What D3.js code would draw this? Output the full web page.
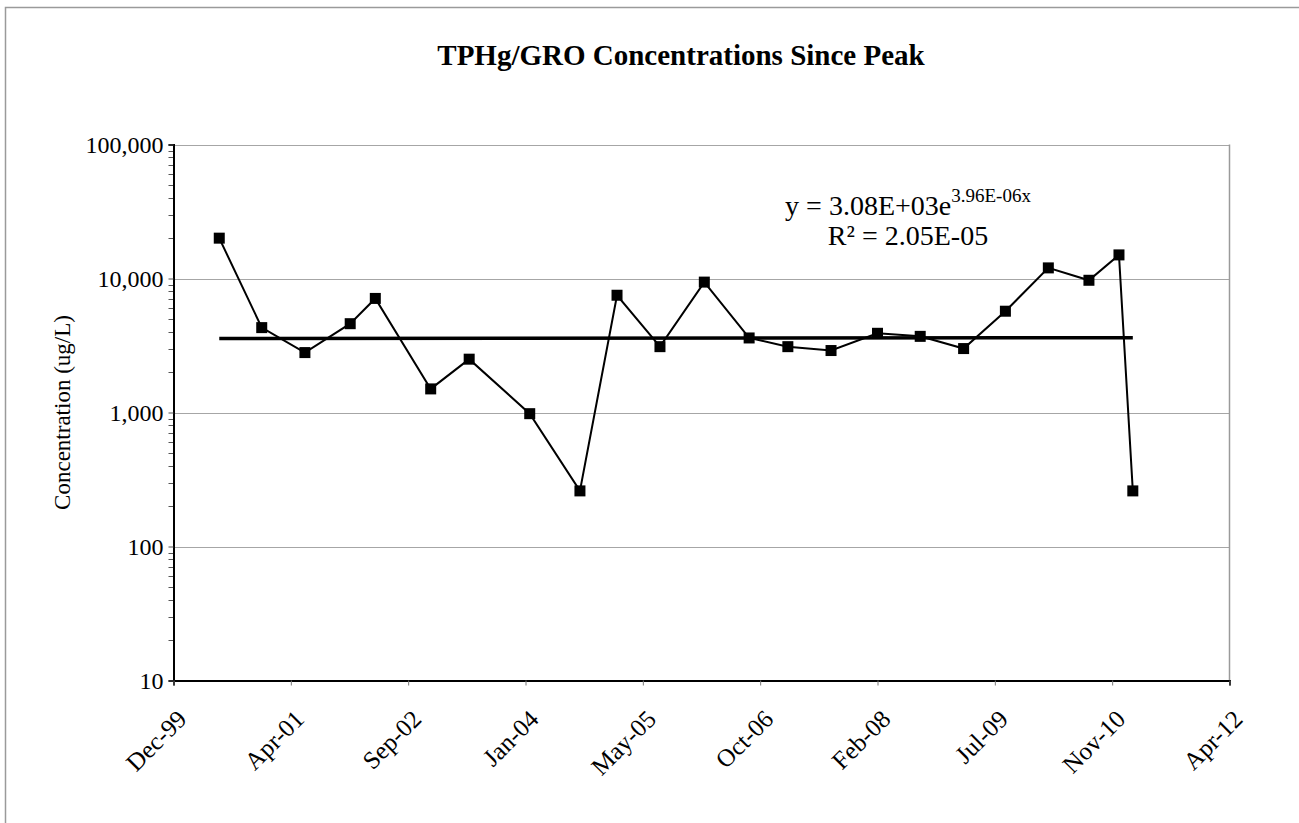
<!DOCTYPE html>
<html>
<head>
<meta charset="utf-8">
<script src="https://cdn.jsdelivr.net/npm/d3@7"></script>
<style>
  html, body { margin: 0; padding: 0; background: #fff; }
  svg { display: block; font-family: "Liberation Serif", "Times New Roman", serif; }
</style>
</head>
<body>
<svg id="chart" width="1299" height="823"></svg>
<script>
// Sampling dates and TPHg/GRO concentrations (ug/L)
const sampleDates = [
  "2000-06-18", "2000-12-16", "2001-06-18", "2001-12-28", "2002-04-14",
  "2002-12-06", "2003-05-19", "2004-02-01", "2004-09-02", "2005-02-07",
  "2005-08-09", "2006-02-14", "2006-08-24", "2007-02-05", "2007-08-08",
  "2008-02-22", "2008-08-22", "2009-02-23", "2009-08-20", "2010-02-19",
  "2010-08-11", "2010-12-17", "2011-02-14"
];
const concentrations = [
  20000, 4300, 2800, 4600, 7100,
  1500, 2500, 980, 260, 7500,
  3100, 9400, 3600, 3100, 2900,
  3900, 3700, 3000, 5700, 12000,
  9700, 15000, 260
];

// Exponential trend fit: y = a * e^(b * x), x = spreadsheet date serial
const trendA = 3.08e3;
const trendB = 3.96e-6;
const trendLabel = "y = 3.08E+03e";
const trendExpLabel = "3.96E-06x";
const r2Label = "R\u00B2 = 2.05E-05";

// Axis settings
const xDomain = ["1999-12-06", "2012-04-01"];
const xTickDates = [
  "1999-12-06", "2001-04-19", "2002-09-01", "2004-01-14", "2005-05-28",
  "2006-10-10", "2008-02-22", "2009-07-06", "2010-11-18", "2012-04-01"
];
const yTickValues = [10, 100, 1000, 10000, 100000];

const chartTitle = "TPHg/GRO Concentrations Since Peak";
const yAxisTitle = "Concentration (ug/L)";

const parse = d3.utcParse("%Y-%m-%d");
const serialEpoch = Date.UTC(1899, 11, 30);
const toSerial = d => (d.getTime() - serialEpoch) / 864e5;

const data = sampleDates.map((s, i) => ({ date: parse(s), value: concentrations[i] }));

const svg = d3.select("#chart");
const plot = { left: 173.5, right: 1229.5, top: 144.5, bottom: 680.5 };

const x = d3.scaleUtc().domain(xDomain.map(parse)).range([plot.left, plot.right]);
const y = d3.scaleLog().domain([10, 100000]).range([plot.bottom, plot.top]);

// outer chart frame
svg.append("rect")
  .attr("x", 5.5).attr("y", 7.5)
  .attr("width", 1320).attr("height", 840)
  .attr("fill", "none").attr("stroke", "#9a9a9a").attr("stroke-width", 1.5);

// title
svg.append("text")
  .attr("x", 681).attr("y", 65)
  .attr("text-anchor", "middle")
  .attr("font-weight", "bold")
  .attr("font-size", 29)
  .text(chartTitle);

// gridlines at each decade
svg.append("g")
  .selectAll("line")
  .data(yTickValues)
  .join("line")
  .attr("x1", plot.left).attr("x2", plot.right)
  .attr("y1", d => Math.round(y(d)) + 0.5).attr("y2", d => Math.round(y(d)) + 0.5)
  .attr("stroke", "#a6a6a6").attr("stroke-width", 1);

// right border of plot area
svg.append("line")
  .attr("x1", plot.right).attr("x2", plot.right)
  .attr("y1", plot.top).attr("y2", plot.bottom)
  .attr("stroke", "#9a9a9a").attr("stroke-width", 1.5);

// y axis with minor ticks
const minorTicks = y.ticks(40).filter(v => !yTickValues.includes(v));
svg.append("g")
  .selectAll("line")
  .data(minorTicks)
  .join("line")
  .attr("x1", plot.left - 5).attr("x2", plot.left)
  .attr("y1", d => Math.round(y(d)) + 0.5).attr("y2", d => Math.round(y(d)) + 0.5)
  .attr("stroke", "#555").attr("stroke-width", 1);

const yAxis = d3.axisLeft(y)
  .tickValues(yTickValues)
  .tickFormat(d3.format(","))
  .tickSize(5)
  .tickPadding(5);
const gy = svg.append("g")
  .attr("transform", `translate(${plot.left},0)`)
  .call(yAxis);
gy.select(".domain").attr("stroke", "#000").attr("stroke-width", 2);
gy.selectAll(".tick line").attr("stroke", "#555");
gy.selectAll(".tick text")
  .attr("font-family", "Liberation Serif, serif")
  .attr("font-size", 24)
  .attr("fill", "#000");

// x axis
const xAxis = d3.axisBottom(x)
  .tickValues(xTickDates.map(parse))
  .tickFormat(d3.utcFormat("%b-%y"))
  .tickSize(5);
const gx = svg.append("g")
  .attr("transform", `translate(0,${plot.bottom})`)
  .call(xAxis);
gx.select(".domain").attr("stroke", "#000").attr("stroke-width", 2);
gx.selectAll(".tick line").attr("stroke", "#777");
gx.selectAll(".tick text")
  .attr("font-family", "Liberation Serif, serif")
  .attr("font-size", 25)
  .attr("fill", "#000")
  .attr("text-anchor", "end")
  .attr("x", 0).attr("y", 0).attr("dy", "0.35em")
  .attr("transform", "translate(8,34) rotate(-45)");

// y axis title
svg.append("text")
  .attr("transform", `translate(70,${(plot.top + plot.bottom) / 2}) rotate(-90)`)
  .attr("text-anchor", "middle")
  .attr("font-size", 23)
  .text(yAxisTitle);

// trend line through the fit, spanning the sampled period
const first = data[0].date, last = data[data.length - 1].date;
const trendPts = [first, last].map(d => ({ date: d, value: trendA * Math.exp(trendB * toSerial(d)) }));
svg.append("path")
  .datum(trendPts)
  .attr("fill", "none")
  .attr("stroke", "#000")
  .attr("stroke-width", 3.5)
  .attr("d", d3.line().x(d => x(d.date)).y(d => y(d.value)));

// data series
svg.append("path")
  .datum(data)
  .attr("fill", "none")
  .attr("stroke", "#000")
  .attr("stroke-width", 2)
  .attr("d", d3.line().x(d => x(d.date)).y(d => y(d.value)));

const ms = 11;
svg.append("g")
  .selectAll("rect")
  .data(data)
  .join("rect")
  .attr("x", d => x(d.date) - ms / 2)
  .attr("y", d => y(d.value) - ms / 2)
  .attr("width", ms).attr("height", ms)
  .attr("fill", "#000");

// trend equation and R² label
const eq = svg.append("text")
  .attr("x", 908).attr("y", 215)
  .attr("text-anchor", "middle")
  .attr("font-size", 28);
eq.append("tspan").text(trendLabel);
eq.append("tspan").attr("font-size", 19).attr("dy", -13).text(trendExpLabel);

svg.append("text")
  .attr("x", 908).attr("y", 245)
  .attr("text-anchor", "middle")
  .attr("font-size", 28)
  .text(r2Label);
</script>
</body>
</html>
